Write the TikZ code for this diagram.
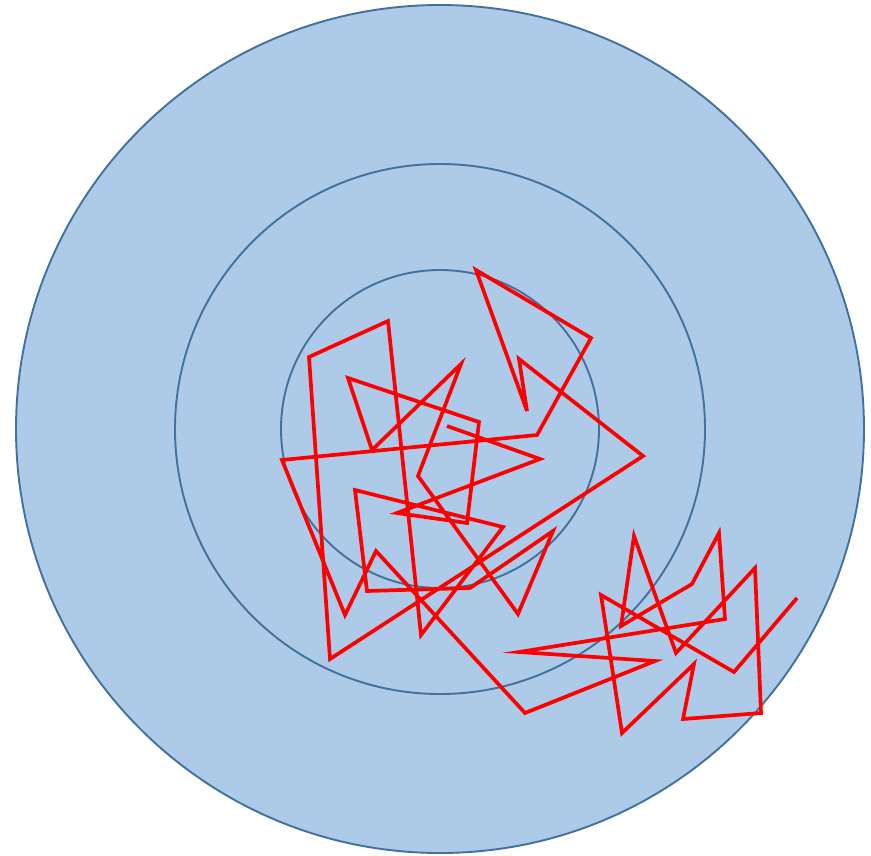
\documentclass[tikz,border=0pt]{standalone}
\definecolor{ringfill}{HTML}{ADCBE8}
\definecolor{ringline}{HTML}{41719C}
\begin{document}
\begin{tikzpicture}[x=1pt,y=-1pt,
  ring/.style={draw=ringline,line width=1.9pt},
  walk/.style={draw=red,line width=3.7pt,line join=miter,miter limit=10}]
\useasboundingbox (0,0) rectangle (871,855);
\coordinate (c) at (440,429);
\fill[ringfill] (c) circle (424);
\draw[ring] (c) circle (424);
\draw[ring] (c) circle (265);
\draw[ring] (c) circle (159);
\draw[walk] (447,426) -- (540,459) -- (397,513) -- (467,523) -- (479,422) -- (348,378)
 -- (372,450) -- (461,364) -- (418,476) -- (518,614) -- (553,531) -- (470,588)
 -- (367,591) -- (355,490) -- (503,527) -- (421,635) -- (388,321) -- (309,357)
 -- (330,659) -- (643,456) -- (519,359) -- (527,411) -- (476,270) -- (591,338)
 -- (537,435) -- (282,460) -- (345,615) -- (376,551) -- (525,713) -- (655,661)
 -- (519,652) -- (725,619) -- (719,533) -- (692,584) -- (621,626) -- (634,536)
 -- (676,653) -- (755,568) -- (761,713) -- (683,719) -- (694,664) -- (622,733)
 -- (601,595) -- (734,672) -- (797,598);
\end{tikzpicture}
\end{document}
